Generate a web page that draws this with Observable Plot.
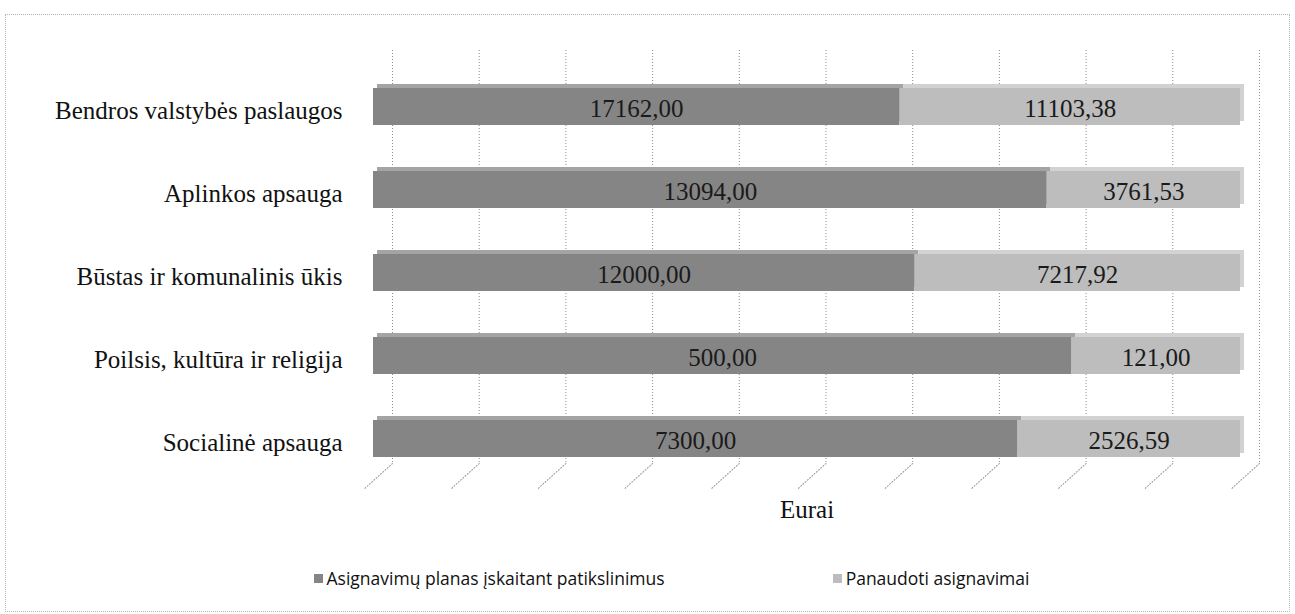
<!DOCTYPE html>
<html>
<head>
<meta charset="utf-8">
<script src="https://cdn.jsdelivr.net/npm/d3@7"></script>
<script src="https://cdn.jsdelivr.net/npm/@observablehq/plot@0.6"></script>
<style>
  body { margin: 0; background: #fff; width: 1295px; height: 614px; overflow: hidden; position: relative; }
  #frame { position: absolute; left: 5px; top: 14px; width: 1285px; height: 598px; border: 1px dotted #b5b5b5; box-sizing: border-box; pointer-events: none; }
  #chart { position: absolute; left: 0; top: 0; }
  #legend { position: absolute; top: 566px; left: 0; width: 1295px; display: flex; justify-content: center; gap: 168px; font-family: "Open Sans", sans-serif; font-size: 17.5px; color: #111; padding-left: 48px; box-sizing: border-box; }
  .item { display: flex; align-items: center; gap: 4px; }
  .sw { width: 9px; height: 9px; display: inline-block; }
  #chart svg text { font-family: "Liberation Serif", "Times New Roman", serif; }
</style>
</head>
<body>
<div id="chart"></div>
<div id="legend"></div>
<div id="frame"></div>
<script>
const categories = ["Bendros valstybės paslaugos", "Aplinkos apsauga", "Būstas ir komunalinis ūkis", "Poilsis, kultūra ir religija", "Socialinė apsauga"];
const plan = [17162.00, 13094.00, 12000.00, 500.00, 7300.00];
const used = [11103.38, 3761.53, 7217.92, 121.00, 2526.59];
const seriesNames = ["Asignavimų planas įskaitant patikslinimus", "Panaudoti asignavimai"];
const seriesColors = ["#858585", "#bdbdbd"];
const topColors = ["#a4a4a4", "#d2d2d2"];
const gridTicks = [0, 0.1, 0.2, 0.3, 0.4, 0.5, 0.6, 0.7, 0.8, 0.9, 1];

const fmt = v => v.toFixed(2).replace(".", ",");
const rows = [];
categories.forEach((c, i) => {
  rows.push({cat: c, series: seriesNames[0], value: plan[i]});
  rows.push({cat: c, series: seriesNames[1], value: used[i]});
});

const serif = "Liberation Serif";
const lineShape = {draw(context, l) { context.moveTo(0, 0); context.lineTo(0, -l); }};

const chart = Plot.plot({
  width: 1295,
  height: 540,
  marginLeft: 373,
  marginRight: 55,
  marginTop: 50,
  marginBottom: 77,
  style: {fontFamily: serif, fontSize: "25px", color: "#111", background: "transparent", overflow: "visible"},
  x: {domain: [0, 1], axis: null},
  y: {domain: categories, paddingInner: 0.55, paddingOuter: 0.25, align: 0.87, label: null, axis: null},
  color: {domain: seriesNames, range: seriesColors},
  marks: [
    Plot.ruleX(gridTicks, {stroke: "#8c8c8c", strokeWidth: 1, strokeDasharray: "1,2", dx: 19}),
    Plot.vector(gridTicks, {x: d => d, frameAnchor: "bottom", dx: 19, length: 38, rotate: 228, anchor: "start", shape: lineShape, stroke: "#8c8c8c", strokeWidth: 1, strokeDasharray: "1,2"}),
    Plot.barX(rows, Plot.stackX({offset: "normalize", x: "value", y: "cat", z: "series", fill: d => d.series === seriesNames[0] ? topColors[0] : topColors[1], order: seriesNames, dx: 4, dy: -4})),
    Plot.barX(rows, Plot.stackX({offset: "normalize", x: "value", y: "cat", z: "series", fill: "series", order: seriesNames})),
    Plot.textX(rows, Plot.stackX({offset: "normalize", x: "value", y: "cat", z: "series", order: seriesNames, text: d => fmt(d.value), fill: "#1a1a1a", fontSize: 25, fontFamily: serif, dy: 2})),
    Plot.axisY({tickSize: 0, tickPadding: 31, fontSize: 25, fontFamily: serif, fill: "#111", label: null, dy: 4}),
    Plot.axisX({ticks: [], tickSize: 0, label: "Eurai", labelAnchor: "center", labelArrow: "none", labelOffset: 54, fontSize: 25, fontFamily: serif, dx: -8})
  ]
});
document.getElementById("chart").appendChild(chart);

const legend = document.getElementById("legend");
seriesNames.forEach((s, i) => {
  const item = document.createElement("span");
  item.className = "item";
  const sw = document.createElement("span");
  sw.className = "sw";
  sw.style.background = seriesColors[i];
  item.appendChild(sw);
  item.appendChild(document.createTextNode(s));
  legend.appendChild(item);
});
</script>
</body>
</html>
